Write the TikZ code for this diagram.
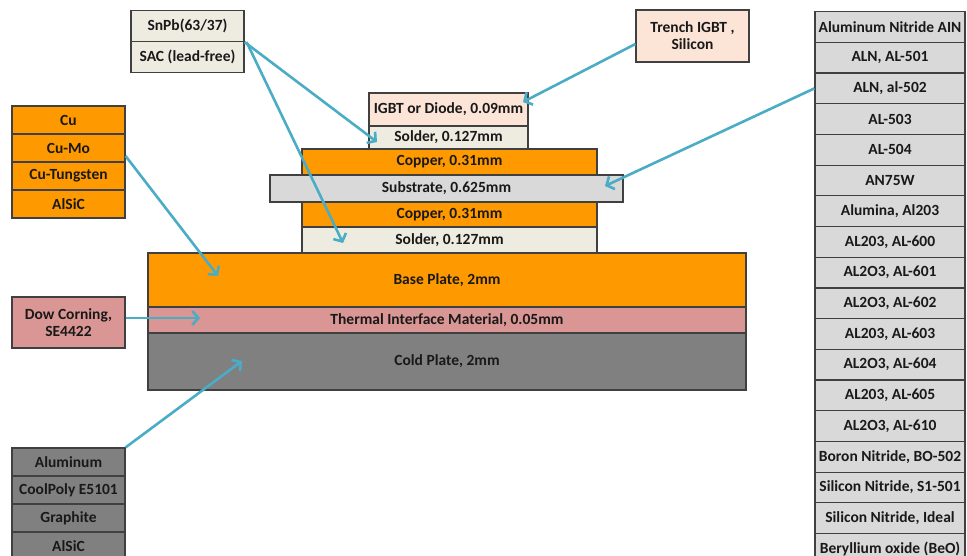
\documentclass[tikz,border=0pt]{standalone}
\usepackage{fontspec}
\setmainfont{Carlito}
\usetikzlibrary{arrows.meta}

\definecolor{edgegray}{HTML}{404040}
\definecolor{copper}{HTML}{FF9900}
\definecolor{cream}{HTML}{EEECE1}
\definecolor{lightgray}{HTML}{D9D9D9}
\definecolor{peach}{HTML}{FCE4D6}
\definecolor{rose}{HTML}{D99694}
\definecolor{midgray}{HTML}{808080}
\definecolor{arrowblue}{HTML}{4BACC6}

\tikzset{
  layer/.style={draw=edgegray, line width=1.2pt, inner sep=0pt, text=black!90, font=\fontsize{15.5}{17}\selectfont\bfseries},
  pointer/.style={draw=arrowblue, line width=2.6pt, -{Straight Barb[length=6pt,width=14pt]}}
}

\begin{document}
\begin{tikzpicture}[x=1pt,y=-1pt]
    \useasboundingbox (0,0) rectangle (967,556);
    \clip (0,0) rectangle (967,556);
    % solder choices
    \node[layer,fill=cream,minimum width=113,minimum height=31] (snpb) at (187.5,26) {SnPb(63/37)};
    \node[layer,fill=cream,minimum width=113,minimum height=31] (sac) at (187.5,57) {SAC (lead-free)};
    % base plate choices
    \node[layer,fill=copper,minimum width=113,minimum height=28] (cu) at (68.5,120) {Cu};
    \node[layer,fill=copper,minimum width=113,minimum height=28] (cumo) at (68.5,148) {Cu-Mo};
    \node[layer,fill=copper,minimum width=113,minimum height=28] (cutung) at (68.5,176) {Cu-Tungsten};
    \node[layer,fill=copper,minimum width=113,minimum height=28] (alsicA) at (68.5,204) {AlSiC};
    % die
    \node[layer,fill=peach,minimum width=113,minimum height=52,align=center] (trench) at (692.5,36) {Trench IGBT ,\\Silicon};
    % thermal interface
    \node[layer,fill=rose,minimum width=113,minimum height=51,align=center] (dow) at (68.5,322.5) {Dow Corning,\\SE4422};
    % cold plate choices
    \node[layer,fill=midgray,minimum width=113,minimum height=28] (alu) at (68.5,462) {Aluminum};
    \node[layer,fill=midgray,minimum width=113,minimum height=28] (coolpoly) at (68.5,490) {CoolPoly E5101};
    \node[layer,fill=midgray,minimum width=113,minimum height=28] (graphite) at (68.5,518) {Graphite};
    \node[layer,fill=midgray,minimum width=113,minimum height=28] (alsicB) at (68.5,546) {AlSiC};
    % substrate choices
    \node[layer,fill=lightgray,minimum width=150,minimum height=30.7] (aln) at (890,27) {Aluminum Nitride AIN};
    \node[layer,fill=lightgray,minimum width=150,minimum height=30.7] (aln501) at (890,57.7) {ALN, AL-501};
    \node[layer,fill=lightgray,minimum width=150,minimum height=30.7] (aln502) at (890,88.4) {ALN, al-502};
    \node[layer,fill=lightgray,minimum width=150,minimum height=30.7] (al503) at (890,119.1) {AL-503};
    \node[layer,fill=lightgray,minimum width=150,minimum height=30.7] (al504) at (890,149.8) {AL-504};
    \node[layer,fill=lightgray,minimum width=150,minimum height=30.7] (an75w) at (890,180.5) {AN75W};
    \node[layer,fill=lightgray,minimum width=150,minimum height=30.7] (alumina) at (890,211.2) {Alumina, Al203};
    \node[layer,fill=lightgray,minimum width=150,minimum height=30.7] (al600) at (890,241.9) {AL203, AL-600};
    \node[layer,fill=lightgray,minimum width=150,minimum height=30.7] (al601) at (890,272.6) {AL2O3, AL-601};
    \node[layer,fill=lightgray,minimum width=150,minimum height=30.7] (al602) at (890,303.3) {AL2O3, AL-602};
    \node[layer,fill=lightgray,minimum width=150,minimum height=30.7] (al603) at (890,334) {AL203, AL-603};
    \node[layer,fill=lightgray,minimum width=150,minimum height=30.7] (al604) at (890,364.7) {AL2O3, AL-604};
    \node[layer,fill=lightgray,minimum width=150,minimum height=30.7] (al605) at (890,395.4) {AL203, AL-605};
    \node[layer,fill=lightgray,minimum width=150,minimum height=30.7] (al610) at (890,426.1) {AL2O3, AL-610};
    \node[layer,fill=lightgray,minimum width=150,minimum height=30.7] (bo502) at (890,456.8) {Boron Nitride, BO-502};
    \node[layer,fill=lightgray,minimum width=150,minimum height=30.7] (s1501) at (890,487.5) {Silicon Nitride, S1-501};
    \node[layer,fill=lightgray,minimum width=150,minimum height=30.7] (ideal) at (890,518.2) {Silicon Nitride, Ideal};
    \node[layer,fill=lightgray,minimum width=150,minimum height=30.7] (beo) at (890,548.9) {Beryllium oxide (BeO)};
    % module stack
    \node[layer,fill=peach,minimum width=159,minimum height=33] (igbt) at (448.5,109.5) {IGBT or Diode, 0.09mm};
    \node[layer,fill=cream,minimum width=159,minimum height=23] (solderA) at (448.5,137.5) {Solder, 0.127mm};
    \node[layer,fill=copper,minimum width=295,minimum height=26] (copperA) at (449.5,162) {Copper, 0.31mm};
    \node[layer,fill=copper,minimum width=295,minimum height=25] (copperB) at (449.5,214.5) {Copper, 0.31mm};
    \node[layer,fill=lightgray,minimum width=353,minimum height=27] (substrate) at (446.5,188.5) {Substrate, 0.625mm};
    \node[layer,fill=cream,minimum width=295,minimum height=26] (solderB) at (449.5,240) {Solder, 0.127mm};
    \node[layer,fill=copper,minimum width=598,minimum height=54] (base) at (447,280) {Base Plate, 2mm};
    \node[layer,fill=rose,minimum width=598,minimum height=26] (tim) at (447,320) {Thermal Interface Material, 0.05mm};
    \node[layer,fill=midgray,minimum width=598,minimum height=57] (cold) at (447,361.5) {Cold Plate, 2mm};
    % arrow tips
    \coordinate (tipSolderA) at (377,142);
    \coordinate (tipSolderB) at (343,243);
    \coordinate (tipIgbt) at (523,102);
    \coordinate (tipSubstrate) at (605,186);
    \coordinate (tipBase) at (218,276);
    \coordinate (tipTim) at (200,318);
    \coordinate (tipCold) at (242,361);
    \draw[pointer] (snpb.south east) -- (tipSolderA);
    \draw[pointer] ([xshift=2pt]snpb.south east) -- (tipSolderB);
    \draw[pointer] ([yshift=-8pt]trench.west) -- (tipIgbt);
    \draw[pointer] (aln502.west) -- (tipSubstrate);
    \draw[pointer] ([yshift=-8pt]cumo.east) -- (tipBase);
    \draw[pointer] (dow.east |- tipTim) -- (tipTim);
    \draw[pointer] (alu.north east) -- (tipCold);
\end{tikzpicture}
\end{document}
